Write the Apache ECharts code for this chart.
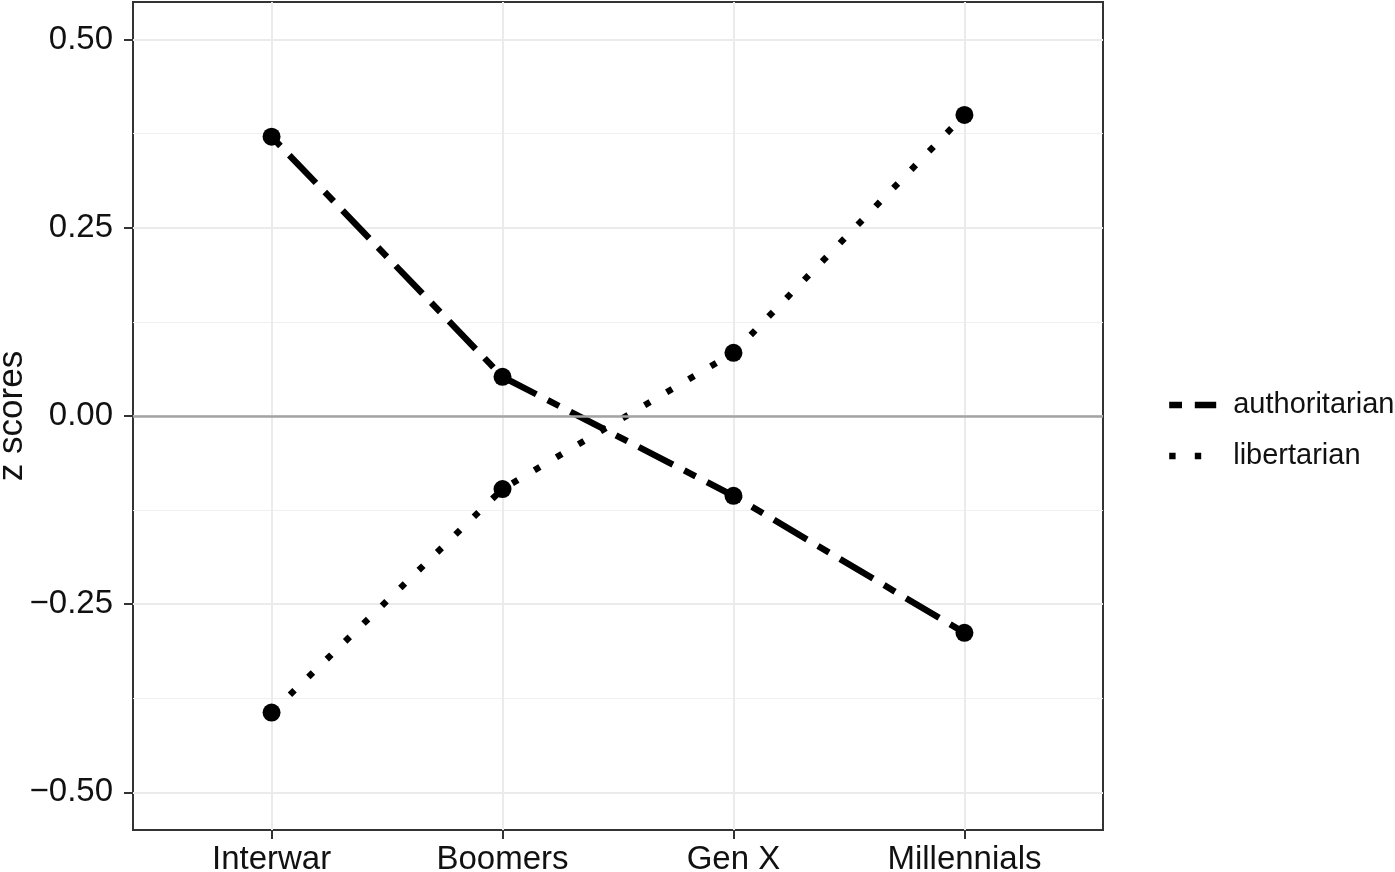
<!DOCTYPE html>
<html><head><meta charset="utf-8">
<script src="https://cdn.jsdelivr.net/npm/echarts@6/dist/echarts.min.js"></script>
<style>html,body{margin:0;padding:0;background:#fff}#c{width:1395px;height:872px}</style>
</head><body><div id="c"></div>
<script>
const categories = ['Interwar', 'Boomers', 'Gen X', 'Millennials'];
const authoritarian = [0.371, 0.052, -0.106, -0.288];
const libertarian = [-0.394, -0.097, 0.084, 0.400];
const yTicks = [-0.5, -0.25, 0, 0.25, 0.5];
const yMinorTicks = [-0.375, -0.125, 0.125, 0.375];
const yLabels = ['\u22120.50', '\u22120.25', '0.00', '0.25', '0.50'];
const seriesNames = ['authoritarian', 'libertarian'];

const FONT = 'Liberation Sans, Arial, Helvetica, sans-serif';
const twodash = [12.8, 12.8, 38.4, 12.8];
const dotted = [6.4, 19.2];
const catIdx = categories.map((c, i) => i);
const pairs = arr => arr.map((v, i) => [i, v]);

const chart = echarts.init(document.getElementById('c'), null, {renderer: 'canvas'});
chart.setOption({
  animation: false,
  backgroundColor: '#fff',
  grid: {left: 133, right: 292, top: 2, bottom: 42, show: true, borderColor: '#333', borderWidth: 2,
    backgroundColor: 'transparent', containLabel: false, outerBoundsMode: 'none'},
  xAxis: {
    type: 'value', min: -0.6, max: 3.6,
    axisLine: {show: false, onZero: false},
    axisTick: {show: true, customValues: catIdx, length: 9, lineStyle: {color: '#333', width: 2}},
    axisLabel: {customValues: catIdx, formatter: v => categories[Math.round(v)], fontSize: 33, fontFamily: FONT, color: '#111', margin: 13},
    splitLine: {show: true, lineStyle: {color: '#ebebeb', width: 2}}
  },
  yAxis: [{
    type: 'value', min: -0.55, max: 0.55,
    name: 'z scores', nameLocation: 'middle', nameGap: 103, nameMoveOverlap: false,
    nameTextStyle: {fontSize: 35, fontFamily: FONT, color: '#111'},
    axisLine: {show: false, onZero: false},
    axisTick: {show: true, customValues: yTicks, length: 9, lineStyle: {color: '#333', width: 2}},
    axisLabel: {customValues: yTicks, formatter: v => yLabels[yTicks.findIndex(t => Math.abs(t - v) < 1e-9)], fontSize: 33, fontFamily: FONT, color: '#111', margin: 20},
    splitLine: {show: true, lineStyle: {color: '#ebebeb', width: 2}}
  }, {
    type: 'value', min: -0.55, max: 0.55, position: 'left',
    axisLine: {show: false, onZero: false},
    axisTick: {show: false, customValues: yMinorTicks},
    axisLabel: {show: false},
    splitLine: {show: true, lineStyle: {color: '#f0f0f0', width: 1.2}}
  }],
  legend: {
    orient: 'vertical', left: 1161, top: 385, itemWidth: 47, itemHeight: 14, itemGap: 21,
    selectedMode: false,
    formatter: n => '{g|}{t|' + n + '}',
    textStyle: {fontSize: 29, fontFamily: FONT, color: '#111', lineHeight: 30,
      rich: {g: {width: 12}, t: {fontSize: 29, fontFamily: FONT, color: '#111'}}},
    data: [
      {name: seriesNames[0], lineStyle: {type: twodash, width: 6.4, color: '#000'}, itemStyle: {opacity: 0}},
      {name: seriesNames[1], lineStyle: {type: dotted, width: 6.4, color: '#000'}, itemStyle: {opacity: 0}}
    ]
  },
  series: [
    {type: 'line', name: 'zero', data: [], z: 1, silent: true,
      markLine: {silent: true, symbol: 'none', label: {show: false}, animation: false,
        lineStyle: {color: '#a3a3a3', width: 2.5, type: 'solid'}, data: [{yAxis: 0}]}},
    {type: 'line', name: seriesNames[0], data: pairs(authoritarian), symbol: 'none', z: 3,
      lineStyle: {color: '#000', width: 6.4, type: twodash}, itemStyle: {color: '#000'}},
    {type: 'line', name: seriesNames[1], data: pairs(libertarian), symbol: 'none', z: 3,
      lineStyle: {color: '#000', width: 6.4, type: dotted}, itemStyle: {color: '#000'}},
    {type: 'scatter', name: 'authoritarian points', data: pairs(authoritarian), symbolSize: 18, z: 4,
      itemStyle: {color: '#000', opacity: 1}},
    {type: 'scatter', name: 'libertarian points', data: pairs(libertarian), symbolSize: 18, z: 4,
      itemStyle: {color: '#000', opacity: 1}}
  ]
});
</script>
</body></html>
